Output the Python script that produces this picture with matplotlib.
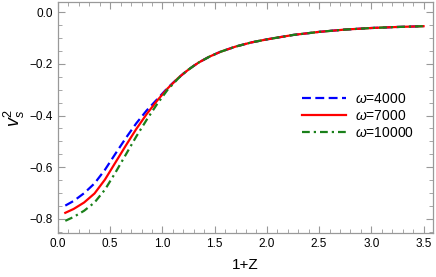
import matplotlib
matplotlib.use("Agg")
import matplotlib.pyplot as plt
from matplotlib.ticker import MultipleLocator

plt.rcParams['font.family'] = ['Liberation Sans', 'DejaVu Sans']
plt.rcParams['mathtext.fontset'] = 'custom'
plt.rcParams['mathtext.rm'] = 'Liberation Sans'
plt.rcParams['mathtext.it'] = 'Liberation Sans:italic'

# 1+Z values
z = [0.07, 0.15, 0.25, 0.35, 0.45, 0.55, 0.65, 0.75, 0.85, 0.95, 1.05, 1.15,
     1.2, 1.25, 1.3, 1.35, 1.45, 1.55, 1.7, 1.85, 2.0, 2.25, 2.5, 2.75, 3.0,
     3.25, 3.5]

# the three curves only differ below ~1.2
tail = [-0.238, -0.222, -0.2075, -0.194, -0.172, -0.154, -0.133, -0.117,
        -0.105, -0.088, -0.076, -0.067, -0.061, -0.057, -0.054]

# v_s^2 for each omega
vs_4000 = [-0.749, -0.731, -0.701, -0.663, -0.610, -0.548, -0.487, -0.430,
           -0.380, -0.337, -0.293, -0.255] + tail
vs_7000 = [-0.777, -0.762, -0.737, -0.702, -0.648, -0.582, -0.516, -0.452,
           -0.394, -0.342, -0.295, -0.255] + tail
vs_10000 = [-0.808, -0.793, -0.769, -0.737, -0.687, -0.621, -0.551, -0.481,
            -0.416, -0.355, -0.300, -0.257] + tail

fig = plt.figure(figsize=(4.36, 2.77), dpi=100)
ax = fig.add_axes([0.133, 0.159, 0.860, 0.834])

ax.plot(z, vs_4000, color='#0000ff', lw=1.6, dashes=(4, 2),
        solid_joinstyle='round', label=r'$\omega$=4000')
ax.plot(z, vs_7000, color='#ff0000', lw=1.6,
        solid_joinstyle='round', label=r'$\omega$=7000')
ax.plot(z, vs_10000, color='#1a801a', lw=1.6, dashes=(3.5, 1.8, 1, 1.8),
        label=r'$\omega$=10000')

ax.set_xlim(0, 3.59)
ax.set_ylim(-0.855, 0.04)
ax.xaxis.set_major_locator(MultipleLocator(0.5))
ax.xaxis.set_minor_locator(MultipleLocator(0.1))
ax.yaxis.set_major_locator(MultipleLocator(0.2))
ax.yaxis.set_minor_locator(MultipleLocator(0.05))
ax.xaxis.set_major_formatter(lambda v, p: f"{v:.1f}")
ax.yaxis.set_major_formatter(lambda v, p: f"{v:.1f}".replace('-', '\u2212'))

ax.tick_params(which='both', direction='in', top=True, right=True, labelsize=8.5,
               color='#999999')
ax.tick_params(which='major', length=5, width=0.8)
ax.tick_params(which='minor', length=3, width=0.6)
for s in ax.spines.values():
    s.set_color('#999999')
    s.set_linewidth(0.9)

ax.set_xlabel('1+Z', fontsize=11, labelpad=6)
ax.set_ylabel(r'$v_s^2$', fontsize=13, labelpad=2)

ax.legend(loc='upper left', bbox_to_anchor=(0.632, 0.64), frameon=False,
          fontsize=10, handlelength=3.2, handletextpad=0.6, labelspacing=0.2,
          borderpad=0)

fig.savefig('out.png', dpi=100)
